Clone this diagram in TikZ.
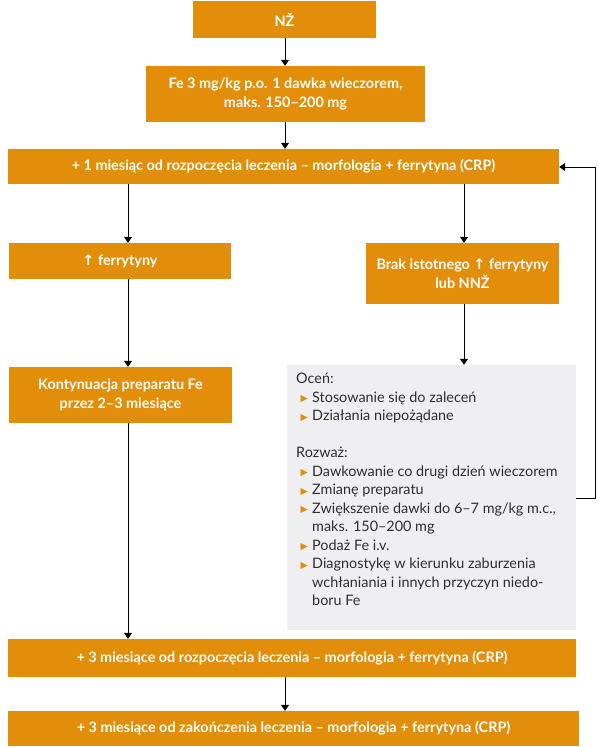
\documentclass[tikz,border=0pt]{standalone}
\usepackage{fontspec}
\setmainfont{Lato}
\newfontfamily\dejavu{DejaVu Sans}
\usetikzlibrary{arrows.meta}
\definecolor{orng}{HTML}{E28E0A}
\definecolor{grbox}{HTML}{EFEFF1}
\definecolor{txtg}{HTML}{2E2E2E}
\newcommand{\mybul}{\textcolor{orng}{\raisebox{0.3pt}{\dejavu\fontsize{9.5}{9.5}\selectfont ▶}}}
\newcommand{\up}{{\dejavu\bfseries ↑}}
\begin{document}
\begin{tikzpicture}[x=1pt,y=-1pt,
  obox/.style={fill=orng, text=white, inner sep=0pt, align=center,
    font=\bfseries\fontsize{14.4}{19}\selectfont},
  arr/.style={draw=black, line width=1pt, -{Triangle[width=8pt,length=6pt]}}]
\useasboundingbox (0,0) rectangle (599,747);
% boxes
\node[obox, minimum width=183pt, minimum height=37pt] (nz) at (284.5,19.5) {NŽ};
\node[obox, minimum width=279pt, minimum height=56pt] (fe) at (285.5,94) {Fe 3 mg/kg p.o. 1 dawka wieczorem,\\maks. 150--200 mg};
\node[obox, minimum width=551pt, minimum height=35pt] (m1) at (283.5,166.5) {+ 1 miesiąc od rozpoczęcia leczenia -- morfologia + ferrytyna (CRP)};
\node[obox, minimum width=222pt, minimum height=36pt] (ferr) at (120,261) {\up\ ferrytyny};
\node[obox, minimum width=193pt, minimum height=61pt] (brak) at (462.5,273.5) {Brak istotnego \up\ ferrytyny\\lub NNŽ};
\node[obox, minimum width=223pt, minimum height=56pt] (kont) at (120.5,395) {Kontynuacja preparatu Fe\\przez 2--3 miesiące};
\node[fill=grbox, minimum width=289pt, minimum height=265pt, inner sep=0pt] (gray) at (431.5,497.5) {};
\node[obox, minimum width=568pt, minimum height=38pt] (p3s) at (292,658) {+ 3 miesiące od rozpoczęcia leczenia -- morfologia + ferrytyna (CRP)};
\node[obox, minimum width=571pt, minimum height=35pt] (p3e) at (293.5,728.5) {+ 3 miesiące od zakończenia leczenia -- morfologia + ferrytyna (CRP)};
% gray box text
\node[anchor=north west, inner sep=0pt, align=left, text=txtg,
  font=\fontsize{14.4}{18.5}\selectfont] (gtxt) at (296,373) {%
Oceń:\\
\makebox[16pt][c]{\mybul}Stosowanie się do zaleceń\\
\makebox[16pt][c]{\mybul}Działania niepożądane\\
\mbox{}\\
Rozważ:\\
\makebox[16pt][c]{\mybul}Dawkowanie co drugi dzień wieczorem\\
\makebox[16pt][c]{\mybul}Zmianę preparatu\\
\makebox[16pt][c]{\mybul}Zwiększenie dawki do 6--7 mg/kg m.c.,\\
\hspace*{16pt}maks. 150--200 mg\\
\makebox[16pt][c]{\mybul}Podaż Fe i.v.\\
\makebox[16pt][c]{\mybul}Diagnostykę w kierunku zaburzenia\\
\hspace*{16pt}wchłaniania i innych przyczyn niedo-\\
\hspace*{16pt}boru Fe};
% helper coordinates
\coordinate (cL) at (128,0);
\coordinate (cR) at (464,0);
\coordinate (cM) at (285,0);
\coordinate (fbA) at (595,498);
\coordinate (fbB) at (595,167);
% connectors
\draw[arr] (nz.south -| cM) -- (fe.north -| cM);
\draw[arr] (fe.south -| cM) -- (m1.north -| cM);
\draw[arr] (m1.south -| cL) -- (ferr.north -| cL);
\draw[arr] (m1.south -| cR) -- (brak.north -| cR);
\draw[arr] (ferr.south -| cL) -- (kont.north -| cL);
\draw[arr] (brak.south -| cR) -- (gray.north -| cR);
\draw[arr] (kont.south -| cL) -- (p3s.north -| cL);
\draw[arr] (p3s.south -| cM) -- (p3e.north -| cM);
\draw[arr] (gray.east |- fbA) -- (fbA) -- (fbB) -- (m1.east |- fbB);
\end{tikzpicture}
\end{document}
